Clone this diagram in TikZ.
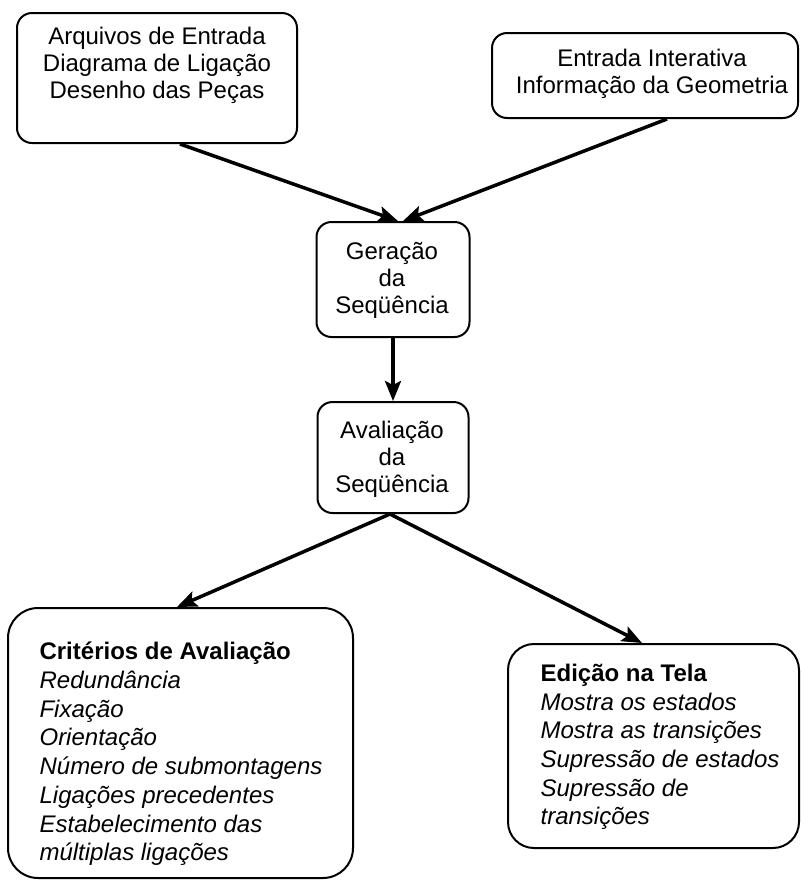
\documentclass[tikz,border=0pt]{standalone}
\usepackage{fontspec}
\setmainfont{Liberation Sans}
\usetikzlibrary{arrows.meta}
\begin{document}
\begin{tikzpicture}[x=1pt,y=-1pt,
  box/.style={draw, line width=2pt, rounded corners=#1, inner sep=0pt},
  box/.default=15pt,
  txt/.style={font=\fontsize{24}{27}\selectfont, inner sep=0pt, align=center},
  ltxt/.style={font=\fontsize{24}{28.7}\selectfont, inner sep=0pt, align=left},
  conn/.style={line width=3.5pt, -{Stealth[length=20pt,width=16pt,inset=4pt]}}]
\useasboundingbox (0,0) rectangle (801,887);
% boxes
\node[box, minimum width=280pt, minimum height=130pt] (b1) at (157,78) {};
\node[box, minimum width=306pt, minimum height=85pt] (b2) at (645,75.5) {};
\node[box, minimum width=153pt, minimum height=115pt] (b3) at (393,279.5) {};
\node[box, minimum width=151pt, minimum height=111pt] (b4) at (393,457.5) {};
\node[box=30pt, minimum width=345pt, minimum height=270pt] (b5) at (180.5,743) {};
\node[box=26pt, minimum width=291pt, minimum height=204pt] (b6) at (653.5,746) {};
% texts
\node[txt] (t1) at (157,65) {Arquivos de Entrada\\Diagrama de Ligação\\Desenho das Peças};
\node[txt] (t2) at (652,74) {Entrada Interativa\\Informação da Geometria};
\node[txt] (t3) at (392,280) {Geração\\da\\Seqüência};
\node[txt] (t4) at (392,459.5) {Avaliação\\da\\Seqüência};
\node[ltxt] (t5) at (181,754) {\textbf{Critérios de Avaliação}\\\textit{Redundância}\\\textit{Fixação}\\\textit{Orientação}\\\textit{Número de submontagens}\\\textit{Ligações precedentes}\\\textit{Estabelecimento das}\\\textit{múltiplas ligações}};
\node[ltxt] (t6) at (660,747) {\textbf{Edição na Tela}\\\textit{Mostra os estados}\\\textit{Mostra as transições}\\\textit{Supressão de estados}\\\textit{Supressão de}\\\textit{transições}};
% connectors
\draw[conn] ([xshift=23pt]b1.south) -- ([xshift=5pt]b3.north);
\draw[conn] ([xshift=22pt]b2.south) -- ([xshift=10pt]b3.north);
\draw[conn] (b3.south) -- (b4.north);
\draw[conn] ([xshift=-3pt]b4.south) -- ([xshift=-3.5pt]b5.north);
\draw[conn] ([xshift=-3pt]b4.south) -- ([xshift=-11.5pt]b6.north);
\end{tikzpicture}
\end{document}
